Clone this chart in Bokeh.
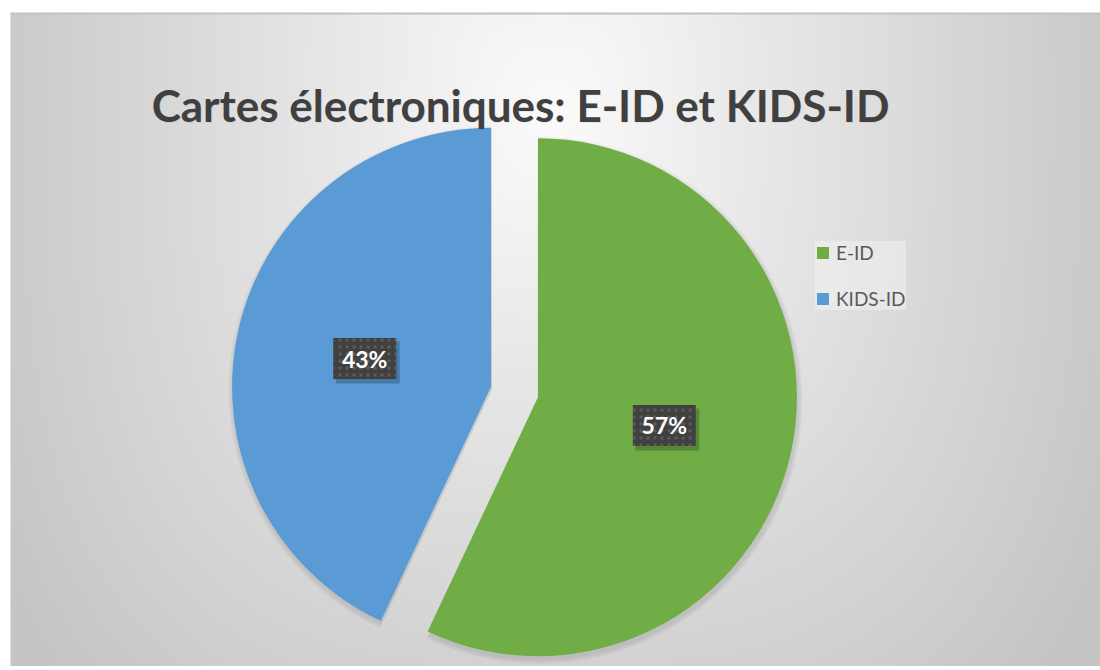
import numpy as np
from bokeh.plotting import figure
from bokeh.models import ColumnDataSource, Range1d, Legend, LegendItem
from bokeh.core.properties import value
from bokeh.embed import file_html
from bokeh.resources import INLINE

# ---- data ----
title_text = "Cartes électroniques: E-ID et KIDS-ID"
categories = ["E-ID", "KIDS-ID"]
shares = [57, 43]
colors = ["#70AD47", "#5B9BD5"]

# ---- layout helpers (page pixel -> figure data coords) ----
W, H = 1100, 666
def fx(px):
    return px
def fy(py):
    return H - py

p = figure(width=W, height=H, output_backend="svg", toolbar_location=None,
           x_range=Range1d(0, W), y_range=Range1d(0, H),
           x_axis_type=None, y_axis_type=None, min_border=0,
           border_fill_color="white", background_fill_color="white",
           outline_line_color=None)
p.grid.visible = False

# ---- radial-ish gradient background ----
x0, y1 = fx(10), fy(13)
nx, ny = 272, 164
xs = x0 + (np.arange(nx) + 0.5) * (W - x0) / nx
ys = (np.arange(ny) + 0.5) * y1 / ny
X, Y = np.meshgrid(xs, ys)
PX = X
PY = H - Y
dx = np.abs(PX - 550) / 560
dy = np.abs(PY - 110) / 680
r = (dx ** 3 + dy ** 3) ** (1 / 3)
c = np.clip(251 - 50 * r, 196, 255).astype(np.uint32)
img = ((255 << 24) | (c << 16) | (c << 8) | c).astype(np.uint32)
p.image_rgba(image=[img], x=x0, y=0, dw=W - x0, dh=y1)
p.segment(x0=[x0], y0=[y1], x1=[W], y1=[y1], line_color="#c2c2c2", line_width=2)

# ---- pie ----
vals = np.array(shares, float)
frac = vals / vals.sum()
cum = np.concatenate([[0.0], np.cumsum(frac)])
start = np.pi / 2 - 2 * np.pi * cum[:-1]
end = np.pi / 2 - 2 * np.pi * cum[1:]
mid = (start + end) / 2
cx0, cy0 = fx(514), fy(391.5)
R = 259
explode = 24
cx = cx0 + explode * np.cos(mid)
cy = cy0 + explode * np.sin(mid)

src = ColumnDataSource(dict(x=cx, y=cy, start=start, end=end, color=colors,
                            label=categories))

# soft shadow
for k in range(1, 6):
    p.wedge(x=cx + 1, y=cy - 3, radius=R + k, start_angle=start, end_angle=end,
            direction="clock", fill_color="black", fill_alpha=0.02, line_color=None)

wr = p.wedge(x="x", y="y", radius=R, start_angle="start", end_angle="end",
             direction="clock", fill_color="color", line_color=None, source=src)

# ---- data labels ----
lx = cx + 0.5 * R * np.cos(mid)
ly = cy + 0.5 * R * np.sin(mid)
lab = [f"{v}%" for v in shares]
p.rect(x=lx + 3, y=ly - 4, width=64, height=42, width_units="screen", height_units="screen",
       fill_color="black", fill_alpha=0.22, line_color=None)
p.rect(x=lx, y=ly, width=63, height=41, width_units="screen", height_units="screen",
       fill_color="#404040", line_color=None, hatch_pattern="dot",
       hatch_color="#5a5a5a", hatch_scale=7, hatch_weight=1.5)
p.text(x=lx, y=ly, text=lab, text_font=value("Lato"), text_font_style="bold",
       text_font_size="23px", text_color="white", text_align="center",
       text_baseline="middle")

# ---- title ----
p.text(x=[fx(521)], y=[fy(105)], text=[title_text], text_font=value("Lato"),
       text_font_style="bold", text_font_size="44px", text_color="black", text_alpha=0.07,
       text_align="center", text_baseline="alphabetic")
p.text(x=[fx(520)], y=[fy(104)], text=[title_text], text_font=value("Lato"),
       text_font_style="bold", text_font_size="44px", text_color="#404040",
       text_align="center", text_baseline="alphabetic")

# ---- legend ----
legend = Legend(items=[LegendItem(label=cat, renderers=[wr], index=i)
                       for i, cat in enumerate(categories)],
                location=(fx(815), fy(310)), orientation="vertical",
                glyph_width=15, glyph_height=15,
                label_text_font="Lato", label_text_font_size="19px",
                label_text_color="#595959", label_height=20,
                spacing=23, padding=12, label_standoff=6, margin=0,
                background_fill_color="#f4f4f4", background_fill_alpha=0.5,
                border_line_color=None)
p.add_layout(legend)

open("out.html", "w").write(file_html(p, INLINE))
